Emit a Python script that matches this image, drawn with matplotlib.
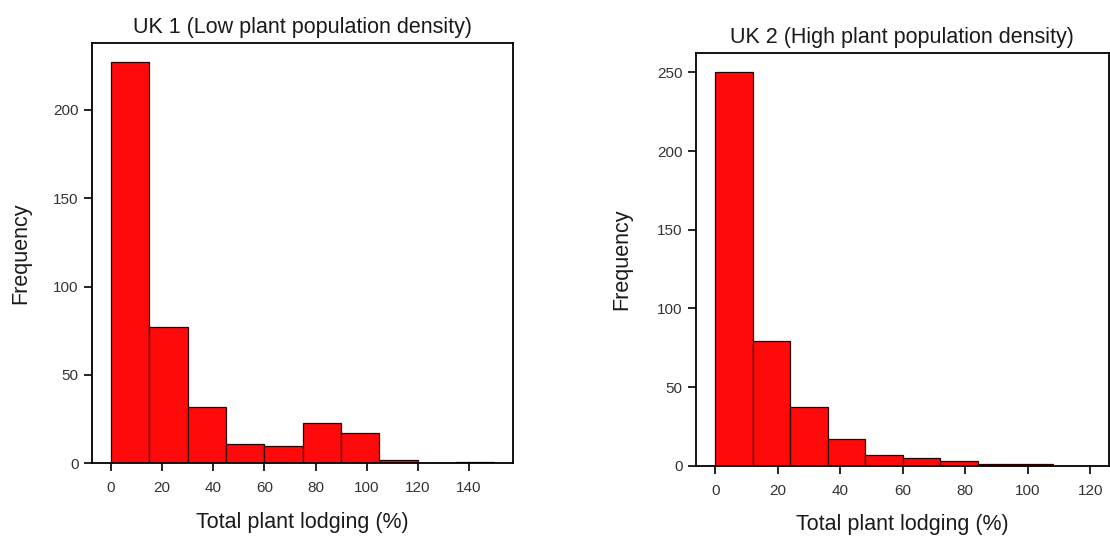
import numpy as np
import matplotlib.pyplot as plt

plt.rcParams['font.family'] = ['Liberation Sans', 'DejaVu Sans']

# UK 1 - low density, bins of 15 %
uk1_edges = [0, 15, 30, 45, 60, 75, 90, 105, 120, 135, 150]
uk1_counts = [227, 77, 32, 11, 10, 23, 17, 2, 0, 1]
uk1_xticks = [0, 20, 40, 60, 80, 100, 120, 140]
uk1_yticks = [0, 50, 100, 150, 200]

# UK 2 - high density, bins of 12 %
uk2_edges = [0, 12, 24, 36, 48, 60, 72, 84, 96, 108, 120]
uk2_counts = [250, 79, 37, 17, 7, 5, 3, 1, 1, 0]
uk2_xticks = [0, 20, 40, 60, 80, 100, 120]
uk2_yticks = [0, 50, 100, 150, 200, 250]

fill = '#ff0a0a'


def draw_hist(ax, edges, counts, xticks, yticks, title, xlim, ylim, ypad):
    edges = np.array(edges)
    ax.bar(edges[:-1], counts, width=np.diff(edges), align='edge',
           color=fill, edgecolor='#2a0000', linewidth=0.9)
    ax.set_xlim(*xlim)
    ax.set_ylim(*ylim)
    ax.set_xticks(xticks)
    ax.set_yticks(yticks)
    ax.tick_params(direction='out', length=6, width=1.2, labelsize=11,
                   top=False, right=False, colors='black', labelcolor='#333333')
    ax.tick_params(axis='x', pad=7)
    for s in ax.spines.values():
        s.set_linewidth(1.3)
    ax.set_title(title, fontsize=15.5, pad=7, color='#1a1a1a')
    ax.set_xlabel('Total plant lodging (%)', fontsize=15.5, labelpad=12, color='#1a1a1a')
    ax.set_ylabel('Frequency', fontsize=15.5, labelpad=ypad, color='#1a1a1a')


fig = plt.figure(figsize=(11.1, 5.37), dpi=100)
ax1 = fig.add_axes([0.0826, 0.1372, 0.3796, 0.7832])
ax2 = fig.add_axes([0.6268, 0.1328, 0.3723, 0.7691])

draw_hist(ax1, uk1_edges, uk1_counts, uk1_xticks, uk1_yticks,
          'UK 1 (Low plant population density)', (-7.6, 157.3), (0, 238), 16)
draw_hist(ax2, uk2_edges, uk2_counts, uk2_xticks, uk2_yticks,
          'UK 2 (High plant population density)', (-6.2, 126), (0, 262.5), 18)

fig.savefig('out.png', dpi=100)
